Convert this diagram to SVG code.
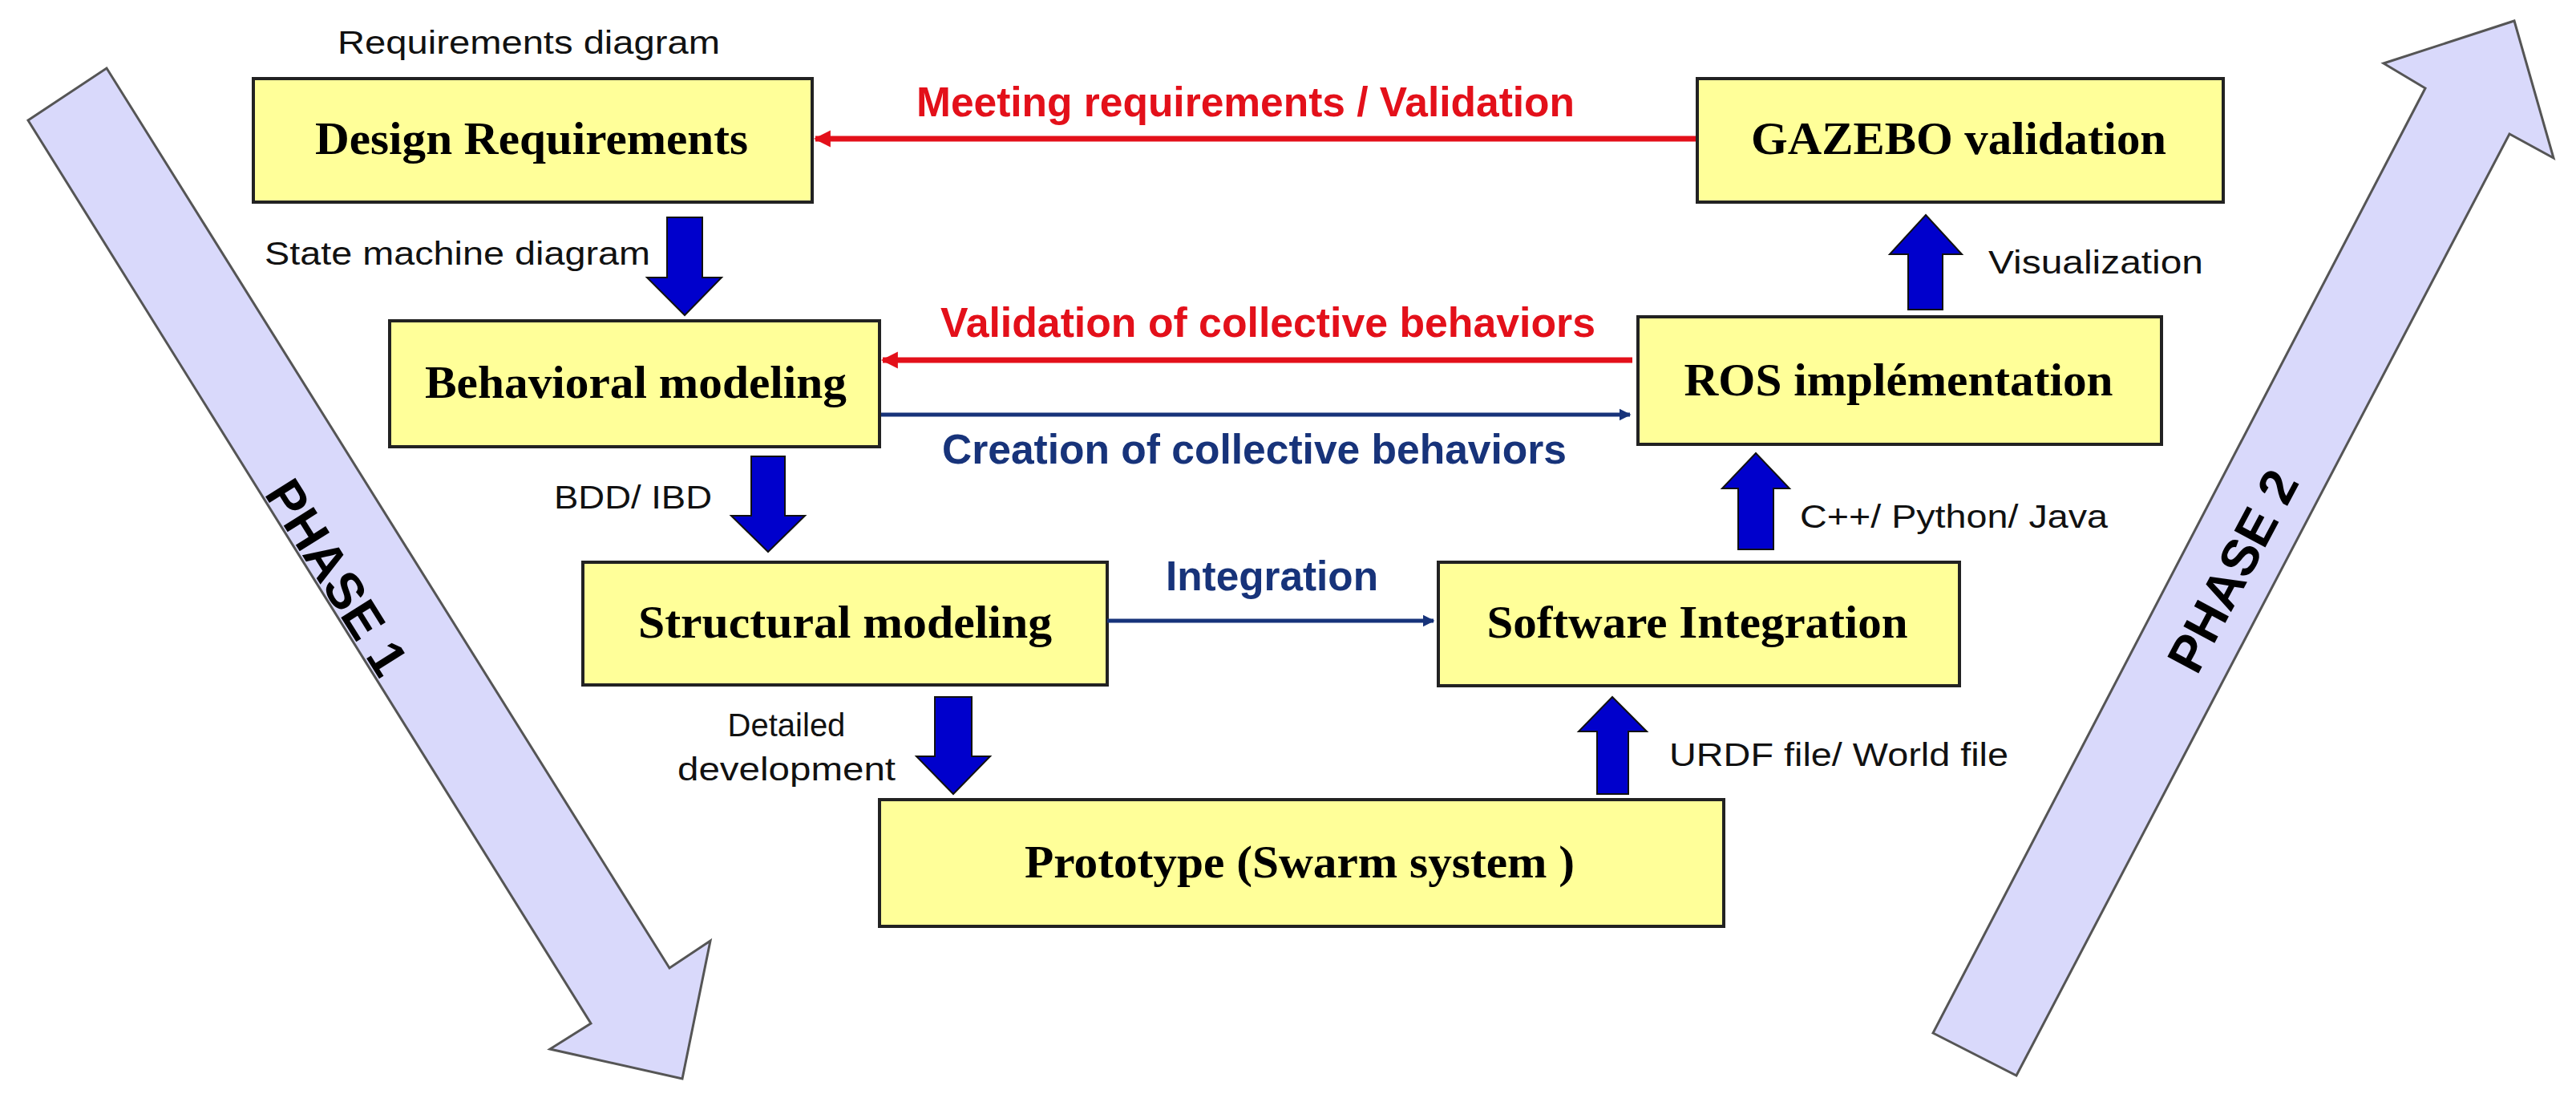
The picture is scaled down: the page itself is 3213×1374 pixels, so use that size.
<svg xmlns="http://www.w3.org/2000/svg" width="3213" height="1374" viewBox="0 0 3213 1374">
<defs>
<style>
.box{fill:#ffff99;stroke:#222;stroke-width:4}
.bt{font-family:"Liberation Serif",serif;font-weight:bold;font-size:58px;fill:#000;text-anchor:middle}
.sm{font-family:"Liberation Sans",Arial,sans-serif;font-size:40px;fill:#111}
.lab{font-family:"Liberation Sans",Arial,sans-serif;font-weight:bold;font-size:52px}
.phase{fill:#d9d9fb;stroke:#555;stroke-width:3}
.pt{font-family:"Liberation Sans",Arial,sans-serif;font-weight:bold;font-size:64px;fill:#000;text-anchor:middle}
.blk{fill:#0000cc;stroke:#111;stroke-width:2}
</style>
<marker id="ar" viewBox="0 0 10 10" refX="9" refY="5" markerWidth="3" markerHeight="4" orient="auto" markerUnits="strokeWidth"><path d="M0,0 L10,5 L0,10 z" fill="#e3101a"/></marker>
<marker id="ab" viewBox="0 0 10 10" refX="9" refY="5" markerWidth="3" markerHeight="4" orient="auto" markerUnits="strokeWidth"><path d="M0,0 L10,5 L0,10 z" fill="#17337a"/></marker>
</defs>
<rect width="3213" height="1374" fill="#fff"/>
<g id="phase1">
<polygon class="phase" points="35,150 133,85 835,1207 886,1173 851,1345 686,1308 737,1276"/>
<text class="pt" transform="translate(420,720) rotate(58)" dy="22">PHASE 1</text>
</g>
<g id="phase2">
<polygon class="phase" points="2411,1288 2515,1341 3130,167 3185,197 3136,26 2973,79 3025,110"/>
<text class="pt" transform="translate(2785,712) rotate(-62)" dy="22">PHASE 2</text>
</g>
<g id="design"><rect class="box" x="316" y="98" width="697" height="154"/><text class="bt" x="663" y="192" textLength="540" lengthAdjust="spacingAndGlyphs">Design Requirements</text></g>
<g id="behav"><rect class="box" x="486" y="400" width="611" height="157"/><text class="bt" x="793" y="496" textLength="526" lengthAdjust="spacingAndGlyphs">Behavioral modeling</text></g>
<g id="struct"><rect class="box" x="727" y="701" width="654" height="153"/><text class="bt" x="1054" y="795" textLength="516" lengthAdjust="spacingAndGlyphs">Structural modeling</text></g>
<g id="proto"><rect class="box" x="1097" y="997" width="1053" height="158"/><text class="bt" x="1621" y="1094" textLength="686" lengthAdjust="spacingAndGlyphs">Prototype (Swarm system )</text></g>
<g id="software"><rect class="box" x="1794" y="701" width="650" height="154"/><text class="bt" x="2117" y="795" textLength="525" lengthAdjust="spacingAndGlyphs">Software Integration</text></g>
<g id="ros"><rect class="box" x="2043" y="395" width="653" height="159"/><text class="bt" x="2368" y="493" textLength="535" lengthAdjust="spacingAndGlyphs">ROS implémentation</text></g>
<g id="gazebo"><rect class="box" x="2117" y="98" width="656" height="154"/><text class="bt" x="2443" y="192" textLength="518" lengthAdjust="spacingAndGlyphs">GAZEBO validation</text></g>
<g id="connectors">
<line x1="2115" y1="173" x2="1017" y2="173" stroke="#e3101a" stroke-width="7" marker-end="url(#ar)"/>
<line x1="2036" y1="449" x2="1101" y2="449" stroke="#e3101a" stroke-width="7" marker-end="url(#ar)"/>
<line x1="1099" y1="517" x2="2033" y2="517" stroke="#17337a" stroke-width="5" marker-end="url(#ab)"/>
<line x1="1381" y1="774" x2="1788" y2="774" stroke="#17337a" stroke-width="5" marker-end="url(#ab)"/>
<polygon class="blk" points="832,271 876,271 876,346 900,346 854,393 807,346 832,346"/>
<polygon class="blk" points="937,569 979,569 979,643 1004,643 958,688 912,643 937,643"/>
<polygon class="blk" points="1166,869 1212,869 1212,943 1235,943 1189,990 1143,943 1166,943"/>
<polygon class="blk" points="1992,990 2031,990 2031,912 2054,912 2011,869 1969,912 1992,912"/>
<polygon class="blk" points="2168,685 2212,685 2212,609 2232,609 2190,565 2148,609 2168,609"/>
<polygon class="blk" points="2380,386 2423,386 2423,317 2447,317 2402,268 2357,317 2380,317"/>
</g>
<g id="labels">
<text class="lab" x="1143" y="145" fill="#e3101a" textLength="821" lengthAdjust="spacingAndGlyphs">Meeting requirements / Validation</text>
<text class="lab" x="1173" y="420" fill="#e3101a" textLength="817" lengthAdjust="spacingAndGlyphs">Validation of collective behaviors</text>
<text class="lab" x="1175" y="578" fill="#17337a" textLength="779" lengthAdjust="spacingAndGlyphs">Creation of collective behaviors</text>
<text class="lab" x="1454" y="736" fill="#17337a" textLength="265" lengthAdjust="spacingAndGlyphs">Integration</text>
<text class="sm" x="421" y="67" textLength="477" lengthAdjust="spacingAndGlyphs">Requirements diagram</text>
<text class="sm" x="330" y="330" textLength="481" lengthAdjust="spacingAndGlyphs">State machine diagram</text>
<text class="sm" x="691" y="634" textLength="197" lengthAdjust="spacingAndGlyphs">BDD/ IBD</text>
<text class="sm" x="981" y="918" text-anchor="middle">Detailed</text>
<text class="sm" x="981" y="973" text-anchor="middle" textLength="272" lengthAdjust="spacingAndGlyphs">development</text>
<text class="sm" x="2082" y="955" textLength="423" lengthAdjust="spacingAndGlyphs">URDF file/ World file</text>
<text class="sm" x="2245" y="658" textLength="384" lengthAdjust="spacingAndGlyphs">C++/ Python/ Java</text>
<text class="sm" x="2480" y="341" textLength="268" lengthAdjust="spacingAndGlyphs">Visualization</text>
</g>
</svg>
